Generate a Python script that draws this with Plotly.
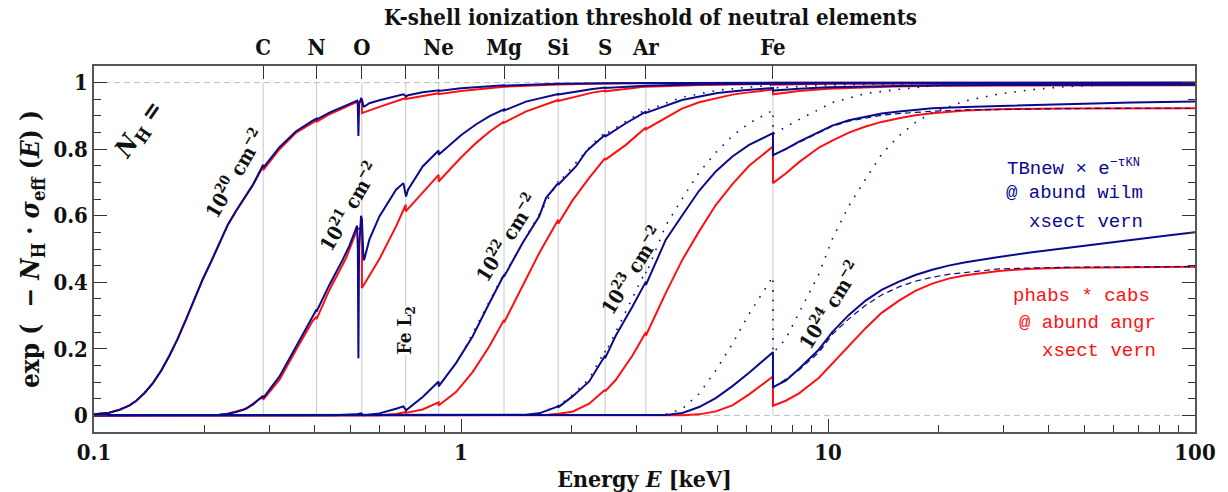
import math
import plotly.graph_objects as go

# ---------------- data ----------------
ELEM_E = [0.289, 0.404, 0.537, 0.707, 0.869, 1.31, 1.84, 2.47, 3.19, 7.08]
ELEM_LABELS = ["C", "N", "O", "", "Ne", "Mg", "Si", "S", "Ar", "Fe"]

X_TICKS = [0.1, 1, 10, 100]
X_TICK_TEXT = ["0.1", "1", "10", "100"]
X_MINOR = [0.2, 0.3, 0.4, 0.5, 0.6, 0.7, 0.8, 0.9, 2, 3, 4, 5, 6, 7, 8, 9, 20, 30, 40, 50, 60, 70, 80, 90]
Y_TICKS = [0, 0.2, 0.4, 0.6, 0.8, 1]
Y_TICK_TEXT = ["0", "0.2", "0.4", "0.6", "0.8", "1"]

# N_H = 1e20  (blue: TBnew x exp(-tau_KN), red: phabs*cabs)
E_TB20 = [0.1, 0.11, 0.1174, 0.125, 0.1304, 0.1375, 0.1447, 0.1525, 0.1606, 0.169, 0.1784, 0.188, 0.198, 0.2087,
          0.2198, 0.2316, 0.244, 0.257, 0.2708, 0.289, 0.289, 0.3202, 0.3554, 0.3945, 0.404, 0.404, 0.4379, 0.4761,
          0.4966, 0.5178, 0.521, 0.5235, 0.5253, 0.5275, 0.5342, 0.537, 0.5425, 0.5453, 0.5627, 0.5993, 0.6653,
          0.6966, 0.7084, 0.7173, 0.7863, 0.869, 0.869, 1.0, 1.2, 1.31, 1.31, 1.5031, 1.84, 2.47, 3.19, 7.08, 100]
T_TB20 = [0.003, 0.008, 0.017, 0.03, 0.044, 0.068, 0.097, 0.135, 0.18, 0.23, 0.29, 0.35, 0.41, 0.463,
          0.52, 0.573, 0.615, 0.655, 0.692, 0.753, 0.744, 0.806, 0.854, 0.886, 0.892, 0.889, 0.91, 0.927,
          0.937, 0.945, 0.946, 0.93, 0.84, 0.935, 0.952, 0.95, 0.928, 0.928, 0.938, 0.947, 0.96,
          0.965, 0.959, 0.962, 0.971, 0.977, 0.975, 0.983, 0.99, 0.992, 0.991, 0.994, 0.9965, 0.9985, 0.9991, 0.9995, 0.9998]
E_PH20 = [0.1, 0.11, 0.1174, 0.125, 0.1304, 0.1375, 0.1447, 0.1525, 0.1606, 0.169, 0.1784, 0.188, 0.198, 0.2087,
          0.2198, 0.2316, 0.244, 0.257, 0.2708, 0.289, 0.289, 0.3202, 0.3554, 0.3945, 0.404, 0.404, 0.4379, 0.4863,
          0.521, 0.537, 0.537, 0.5993, 0.6653, 0.707, 0.707, 0.7863, 0.869, 0.869, 1.0, 1.31, 1.31, 1.5, 1.84, 1.84,
          2.47, 2.47, 3.19, 7.08, 100]
T_PH20 = [0.003, 0.008, 0.017, 0.03, 0.044, 0.068, 0.097, 0.135, 0.18, 0.23, 0.29, 0.35, 0.41, 0.463,
          0.52, 0.573, 0.615, 0.655, 0.692, 0.749, 0.737, 0.8, 0.85, 0.88, 0.886, 0.882, 0.905, 0.927,
          0.942, 0.9445, 0.9085, 0.927, 0.945, 0.954, 0.951, 0.96, 0.968, 0.9654, 0.975, 0.9876, 0.9873, 0.991, 0.9947, 0.9943,
          0.9976, 0.9973, 0.9988, 0.9993, 0.9994]

# N_H = 1e21
E_TB21 = [0.1, 0.18, 0.2198, 0.2316, 0.244, 0.257, 0.2708, 0.2824, 0.289, 0.289, 0.3202, 0.3554, 0.3945, 0.404, 0.404,
          0.4379, 0.4761, 0.4966, 0.5178, 0.521, 0.5235, 0.5253, 0.5275, 0.5342, 0.537, 0.5425, 0.5453, 0.5627, 0.5993,
          0.6653, 0.6966, 0.7084, 0.7173, 0.7863, 0.869, 0.869, 1.0, 1.1, 1.2, 1.31, 1.31, 1.5031, 1.84, 1.84, 2.2822,
          2.47, 2.47, 3.19, 4.5, 7.08, 7.08, 10, 30, 100]
T_TB21 = [0.0, 0.0, 0.002, 0.005, 0.01, 0.018, 0.032, 0.05, 0.059, 0.052, 0.117, 0.207, 0.297, 0.318, 0.312,
          0.392, 0.468, 0.51, 0.562, 0.57, 0.5, 0.172, 0.5, 0.6, 0.59, 0.466, 0.47, 0.528, 0.598,
          0.678, 0.698, 0.658, 0.678, 0.748, 0.796, 0.783, 0.842, 0.875, 0.9, 0.92, 0.916, 0.943, 0.966, 0.964, 0.981,
          0.985, 0.984, 0.991, 0.995, 0.997, 0.996, 0.998, 0.999, 0.9993]
E_PH21 = [0.1, 0.18, 0.2198, 0.2316, 0.2598, 0.2824, 0.289, 0.289, 0.3202, 0.3554, 0.3945, 0.404, 0.404, 0.4379,
          0.4863, 0.521, 0.537, 0.537, 0.5993, 0.6653, 0.707, 0.707, 0.7863, 0.869, 0.869, 1.0, 1.1, 1.2, 1.31, 1.31,
          1.5, 1.84, 1.84, 2.28, 2.47, 2.47, 3.19, 4.5, 7.08, 7.08, 10, 100]
T_PH21 = [0.0, 0.0, 0.0015, 0.005, 0.02, 0.049, 0.055, 0.047, 0.107, 0.197, 0.284, 0.297, 0.289, 0.377,
          0.473, 0.558, 0.566, 0.383, 0.47, 0.568, 0.633, 0.613, 0.668, 0.723, 0.703, 0.775, 0.819, 0.854, 0.883, 0.88,
          0.913, 0.948, 0.945, 0.97, 0.976, 0.974, 0.988, 0.993, 0.996, 0.994, 0.997, 0.9992]

# N_H = 1e22
E_TB22 = [0.1, 0.45, 0.5178, 0.5342, 0.5425, 0.5993, 0.6653, 0.6966, 0.7084, 0.7173, 0.7863, 0.869, 0.869, 0.9691,
          1.0755, 1.194, 1.31, 1.31, 1.4715, 1.634, 1.704, 1.84, 1.84, 2.0568, 2.19, 2.2822, 2.47, 2.47, 2.8131,
          3.19, 3.19, 4.0, 5.0, 6.0, 7.08, 7.08, 8.34, 10, 15, 20, 30, 50, 100]
T_TB22 = [0.0, 0.0, 0.003, 0.006, 0.0005, 0.006, 0.02, 0.027, 0.015, 0.02, 0.055, 0.102, 0.087, 0.157,
          0.237, 0.337, 0.4225, 0.417, 0.518, 0.598, 0.653, 0.698, 0.693, 0.748, 0.792, 0.81, 0.843, 0.838, 0.878,
          0.913, 0.909, 0.948, 0.969, 0.978, 0.984, 0.976, 0.982, 0.986, 0.9906, 0.992, 0.9928, 0.9935, 0.994]
E_PH22 = [0.1, 0.6, 0.6653, 0.707, 0.707, 0.7863, 0.869, 0.869, 0.9691, 1.0755, 1.194, 1.31, 1.31, 1.4715, 1.634,
          1.84, 1.84, 2.0131, 2.2351, 2.47, 2.47, 2.8131, 3.19, 3.19, 4.0, 4.4544, 5.0, 5.49, 6.0, 7.08, 7.08, 8.34,
          10, 15, 20, 30, 100]
T_PH22 = [0.0, 0.0005, 0.004, 0.0104, 0.0075, 0.0178, 0.039, 0.0295, 0.07, 0.13, 0.207, 0.287, 0.279, 0.387, 0.488,
          0.588, 0.576, 0.646, 0.714, 0.773, 0.768, 0.813, 0.865, 0.86, 0.922, 0.941, 0.955, 0.964, 0.97, 0.979, 0.965, 0.9745,
          0.9815, 0.9886, 0.9905, 0.9915, 0.992]
E_DOT22 = [1.0, 1.31, 1.31, 1.634, 1.84, 1.84, 2.2822, 2.47, 2.47, 3.19, 3.19, 4.0, 5.0, 6.0, 7.08, 7.08, 10, 20, 100]
T_DOT22 = [0.18, 0.426, 0.421, 0.603, 0.703, 0.698, 0.816, 0.85, 0.845, 0.92, 0.916, 0.956, 0.977, 0.986, 0.992, 0.984,
           0.993, 0.998, 0.9995]

# N_H = 1e23
E_TB23 = [0.1, 1.31, 1.5, 1.634, 1.84, 1.84, 2.0131, 2.2351, 2.38, 2.47, 2.47, 2.642, 2.9323, 3.19, 3.19, 3.615, 4.0,
          4.4544, 4.9454, 5.49, 6.095, 7.08, 7.08, 7.67, 8.34, 9.45, 10.27, 11.4, 12.66, 14.0, 15.61, 17.3, 19.23, 23.7,
          29.22, 36.0, 44.4, 55.0, 67.4, 82.0, 100]
T_TB23 = [0.0, 0.0002, 0.002, 0.006, 0.027, 0.024, 0.057, 0.102, 0.152, 0.18, 0.172, 0.24, 0.327, 0.402, 0.392, 0.528, 0.60,
          0.675, 0.733, 0.778, 0.813, 0.848, 0.782, 0.8, 0.823, 0.853, 0.871, 0.887, 0.898, 0.907, 0.913, 0.919, 0.923, 0.927,
          0.93, 0.933, 0.936, 0.938, 0.94, 0.942, 0.943]
E_PH23 = [0.1, 1.7, 1.84, 2.0131, 2.2351, 2.38, 2.47, 2.47, 2.642, 2.9323, 3.19, 3.19, 3.615, 4.0114, 4.4544, 4.9454,
          5.49, 6.095, 7.08, 7.08, 7.67, 8.34, 9.45, 10.27, 11.4, 12.66, 14.0, 15.61, 17.3, 19.23, 23.7, 29.22, 36.0,
          44.4, 100]
T_PH23 = [0.0, 0.001, 0.005, 0.011, 0.035, 0.06, 0.077, 0.072, 0.107, 0.18, 0.25, 0.24, 0.368, 0.468, 0.553, 0.632,
          0.695, 0.75, 0.808, 0.698, 0.727, 0.761, 0.805, 0.826, 0.85, 0.868, 0.882, 0.893, 0.902, 0.908, 0.916, 0.92, 0.921,
          0.922, 0.923]
E_DOT23 = [1.634, 1.84, 1.84, 2.0131, 2.2351, 2.47, 2.47, 2.9323, 3.19, 3.19, 3.615, 4.0, 4.4544, 4.9454, 5.49, 6.095,
           7.08, 7.08, 8.34, 10.27, 12.66, 15.61, 19.23, 29.22, 44.4, 100]
T_DOT23 = [0.006, 0.029, 0.026, 0.062, 0.11, 0.195, 0.186, 0.354, 0.435, 0.424, 0.571, 0.65, 0.73, 0.79, 0.84, 0.878,
           0.917, 0.845, 0.889, 0.94, 0.967, 0.98, 0.99, 0.996, 0.998, 0.999]
E_DSH23 = [7.08, 8.34, 10.27, 11.4, 12.66, 14.0, 15.61, 19.23, 23.7, 29.22, 44.4, 67.4, 100]
T_DSH23 = [0.782, 0.821, 0.869, 0.884, 0.894, 0.902, 0.907, 0.914, 0.918, 0.920, 0.922, 0.923, 0.923]

# N_H = 1e24
E_TB24 = [0.1, 3.2, 3.615, 4.0114, 4.4544, 4.9454, 5.49, 6.095, 7.08, 7.08, 7.67, 8.34, 9.45, 10.27, 11.4, 12.66,
          14.0, 15.61, 17.3, 19.23, 21.3, 23.71, 26.3, 29.22, 36.0, 44.4, 55.0, 67.4, 82.0, 100]
T_TB24 = [0.0, 0.0, 0.001, 0.007, 0.025, 0.052, 0.088, 0.128, 0.19, 0.085, 0.104, 0.14, 0.198, 0.25, 0.302, 0.345,
          0.377, 0.402, 0.422, 0.4375, 0.45, 0.46, 0.469, 0.476, 0.49, 0.503, 0.516, 0.528, 0.539, 0.55]
E_PH24 = [0.1, 4.0, 4.4544, 4.9454, 5.49, 6.095, 7.08, 7.08, 7.67, 8.34, 9.45, 10.27, 11.4, 12.66, 14.0, 15.61, 17.3,
          19.23, 21.3, 23.7, 29.22, 36.0, 44.4, 67.4, 100]
T_PH24 = [0.0, 0.0, 0.003, 0.012, 0.03, 0.063, 0.117, 0.029, 0.044, 0.066, 0.113, 0.155, 0.21, 0.262, 0.308, 0.345,
          0.374, 0.396, 0.411, 0.421, 0.434, 0.441, 0.4435, 0.4457, 0.447]
E_DOT24 = [3.615, 4.0114, 4.4544, 4.9454, 5.49, 6.095, 7.08, 7.08, 7.67, 8.34, 9.45, 10.27, 11.4, 12.66, 14.0, 15.61,
           17.3, 19.23, 23.7, 29.22, 36.0, 44.4, 67.4, 100]
T_DOT24 = [0.003, 0.02, 0.065, 0.135, 0.215, 0.305, 0.417, 0.187, 0.23, 0.31, 0.425, 0.53, 0.63, 0.71, 0.785, 0.84,
           0.88, 0.91, 0.945, 0.966, 0.979, 0.988, 0.996, 0.999]
E_DSH24 = [7.08, 8.34, 9.45, 10.27, 11.4, 12.66, 14.0, 15.61, 17.3, 19.23, 21.3, 23.7, 29.22, 36.0, 44.4, 67.4, 100]
T_DSH24 = [0.083, 0.136, 0.19, 0.243, 0.29, 0.331, 0.362, 0.386, 0.403, 0.415, 0.424, 0.43, 0.44, 0.443, 0.445, 0.446, 0.447]

NH_LABELS = ["10<sup>20</sup> cm<sup>−2</sup>", "10<sup>21</sup> cm<sup>−2</sup>", "10<sup>22</sup> cm<sup>−2</sup>",
             "10<sup>23</sup> cm<sup>−2</sup>", "10<sup>24</sup> cm<sup>−2</sup>"]
NH_LABEL_E = [0.2412, 0.495, 1.328, 2.909, 10.06]
NH_LABEL_T = [0.729, 0.628, 0.536, 0.4375, 0.3325]
NH_LABEL_ANGLE = [-60, -60, -58, -58, -58]

# ---------------- styling ----------------
BLUE = "#0a0a8c"
RED = "#ff1010"
SERIF = "DejaVu Serif Condensed, DejaVu Serif, serif"
MONO = "Liberation Mono, DejaVu Sans Mono, monospace"
AXC = "#555555"
INK = "#111111"

fig = go.Figure()

# element threshold lines
gx, gy = [], []
for e in ELEM_E:
    gx += [e, e, None]
    gy += [0, 1, None]
fig.add_trace(go.Scatter(x=gx, y=gy, mode="lines", line=dict(color="#c8c8c8", width=1),
                         hoverinfo="skip", showlegend=False))
# reference levels 0 and 1
fig.add_trace(go.Scatter(x=[0.1, 100, None, 0.1, 100], y=[0, 0, None, 1, 1], mode="lines",
                         line=dict(color="#bdbdbd", width=1, dash="6px,4px"), hoverinfo="skip", showlegend=False))


def curve(E, T, color, width=2.0, dash="solid"):
    fig.add_trace(go.Scatter(x=E, y=T, mode="lines", line=dict(color=color, width=width, dash=dash),
                             hoverinfo="skip", showlegend=False))


# red phabs*cabs
for E, T in [(E_PH20, T_PH20), (E_PH21, T_PH21), (E_PH22, T_PH22), (E_PH23, T_PH23), (E_PH24, T_PH24)]:
    curve(E, T, RED, 2.0)
# dashed TBnew*cabs
for E, T in [(E_DSH23, T_DSH23), (E_DSH24, T_DSH24)]:
    curve(E, T, BLUE, 1.2, "6px,4px")
# dotted TBnew only
for E, T in [(E_DOT22, T_DOT22), (E_DOT23, T_DOT23), (E_DOT24, T_DOT24)]:
    curve(E, T, BLUE, 1.6, "1.6px,8px")
# blue TBnew x KN
for E, T in [(E_TB20, T_TB20), (E_TB21, T_TB21), (E_TB22, T_TB22), (E_TB23, T_TB23), (E_TB24, T_TB24)]:
    curve(E, T, BLUE, 2.0)

# top axis carrier
fig.add_trace(go.Scatter(x=ELEM_E, y=[0.5] * len(ELEM_E), xaxis="x2", mode="markers", marker=dict(opacity=0),
                         hoverinfo="skip", showlegend=False))

tickfont = dict(family=SERIF, size=22, color=INK, weight="bold")

fig.update_layout(
    width=1228, height=492,
    margin=dict(l=94, r=33, t=66, b=60, autoexpand=False),
    paper_bgcolor="white", plot_bgcolor="white", showlegend=False,
    xaxis=dict(type="log", range=[-1, 2], showline=True, linecolor=AXC, linewidth=1.5, mirror=False,
               ticks="inside", ticklen=13, tickwidth=1, tickcolor="#333333",
               tickvals=X_TICKS, ticktext=X_TICK_TEXT, tickfont=tickfont,
               minor=dict(ticks="inside", ticklen=7, tickwidth=1, tickcolor="#333333", tickvals=X_MINOR, showgrid=False),
               showgrid=False, zeroline=False,
               title=dict(text="Energy <i>E</i> [keV]", font=dict(family=SERIF, size=23, color=INK, weight="bold"),
                          standoff=8)),
    xaxis2=dict(type="log", range=[-1, 2], overlaying="x", side="top", showline=True, linecolor=AXC, linewidth=1.5,
                ticks="inside", ticklen=13, tickwidth=1, tickcolor="#333333",
                tickvals=ELEM_E, ticktext=ELEM_LABELS, tickfont=tickfont, showgrid=False, zeroline=False),
    yaxis=dict(range=[-0.05, 1.05], showline=True, linecolor=AXC, linewidth=1.5, mirror="ticks",
               ticks="inside", ticklen=13, tickwidth=1, tickcolor="#333333",
               tickvals=Y_TICKS, ticktext=Y_TICK_TEXT, tickfont=tickfont,
               minor=dict(ticks="inside", ticklen=7, tickwidth=1, tickcolor="#333333", dtick=0.05, tick0=0, showgrid=False),
               showgrid=False, zeroline=False,
               title=dict(text="exp (  − <i>N</i><sub>H</sub> · <i>σ</i><sub>eff</sub> (<i>E</i>) )",
                          font=dict(family=SERIF, size=26, color=INK, weight="bold"), standoff=6)),
)

# title
fig.add_annotation(text="K-shell ionization threshold of neutral elements", xref="paper", yref="paper",
                   x=0.5057, y=1.133, showarrow=False, xanchor="center", yanchor="middle",
                   font=dict(family=SERIF, size=22, color=INK, weight="bold"))

# N_H =
fig.add_annotation(text="<i>N</i><sub>H</sub> =", x=math.log10(0.133), y=0.858, xref="x", yref="y",
                   showarrow=False, textangle=-55, font=dict(family=SERIF, size=25, color=INK, weight="bold"))

for lab, e, t, ang in zip(NH_LABELS, NH_LABEL_E, NH_LABEL_T, NH_LABEL_ANGLE):
    fig.add_annotation(text=lab, x=math.log10(e), y=t, xref="x", yref="y", showarrow=False, textangle=ang,
                       font=dict(family=SERIF, size=20, color=INK, weight="bold"))

fig.add_annotation(text="Fe L<sub>2</sub>", x=math.log10(0.707), y=0.2545, xref="x", yref="y", showarrow=False,
                   textangle=-90, bgcolor="white", borderpad=0,
                   font=dict(family=SERIF, size=19, color=INK, weight="bold"))

# model descriptions
fig.add_annotation(text="TBnew × e<sup>−τ<span style=\"font-size:12px\">KN</span></sup>", x=0.8274, y=0.7237,
                   xref="paper", yref="paper", xanchor="left", yanchor="middle", showarrow=False,
                   font=dict(family=MONO, size=19, color=BLUE))
blue_lines = [("@ abund wilm", 0.9546, 0.6528),
              ("xsect vern", 0.9546, 0.5737)]
red_lines = [("phabs * cabs", 0.961, 0.3718),
             ("@ abund angr", 0.9664, 0.2982),
             ("xsect vern", 0.9664, 0.2218)]
for txt, x, y in blue_lines:
    fig.add_annotation(text=txt, x=x, y=y, xref="paper", yref="paper", xanchor="right", yanchor="middle",
                       showarrow=False, font=dict(family=MONO, size=19, color=BLUE))
for txt, x, y in red_lines:
    fig.add_annotation(text=txt, x=x, y=y, xref="paper", yref="paper", xanchor="right", yanchor="middle",
                       showarrow=False, font=dict(family=MONO, size=19, color=RED))

fig.write_html("out.html")
